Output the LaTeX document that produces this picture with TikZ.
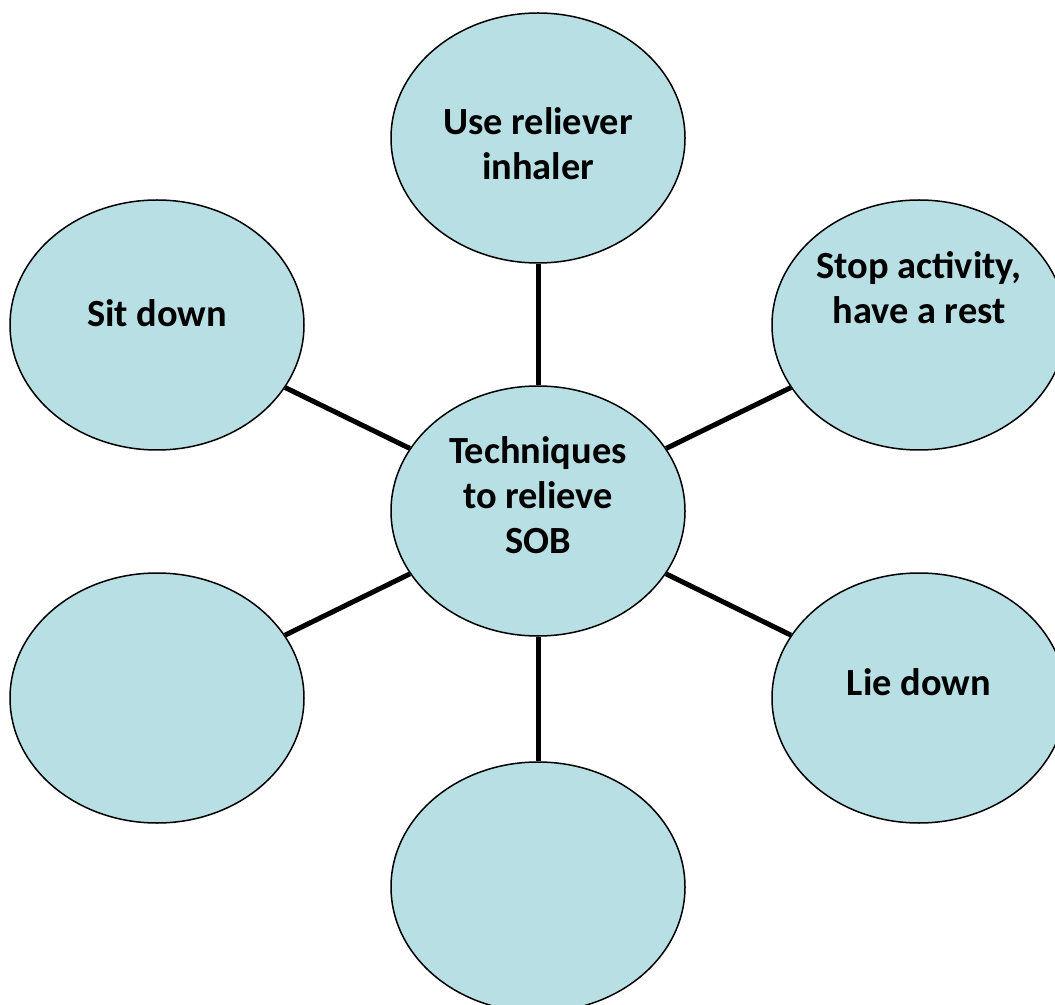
\documentclass[tikz,border=0pt]{standalone}
\usepackage{fontspec}
\setmainfont{Carlito}
\usetikzlibrary{shapes.geometric}
\definecolor{bubblefill}{HTML}{B8DFE3}
\tikzset{
  bubble/.style={ellipse, draw=black, line width=0.75pt, fill=bubblefill,
                 minimum width=147pt, minimum height=125pt, inner sep=0pt},
  txt/.style={font=\fontsize{19.2}{22.5}\selectfont\bfseries, text=black,
              align=center, inner sep=0pt},
  spoke/.style={draw=black, line width=2.5pt},
}

\begin{document}
\begin{tikzpicture}[x=0.5pt, y=-0.5pt]
% ---- page (px of the layout) ------------------------------------------------
\useasboundingbox (0,0) rectangle (1055,1005);
\clip (0,0) rectangle (1055,1005);
\def\xL{157} \def\xM{538} \def\xR{919}
\def\rA{138} \def\rB{325} \def\rC{511} \def\rD{698} \def\rE{887}

% ---- bubbles ------------------------------------------------------------------
\node[bubble] (hub)   at (\xM, \rC) {};
\node[bubble] (use)   at (\xM, \rA) {};
\node[bubble] (sit)   at (\xL, \rB) {};
\node[bubble] (stop)  at (\xR, \rB) {};
\node[bubble] (lie)   at (\xR, \rD) {};
\node[bubble] (blank) at (\xL, \rD) {};
\node[bubble] (low)   at (\xM, \rE) {};

% ---- texts --------------------------------------------------------------------
\node[txt] (hub-t)  at ([yshift=8pt]hub)     {Techniques\\to relieve\\SOB};
\node[txt] (use-t)  at ([yshift=-3pt]use)    {Use reliever\\inhaler};
\node[txt] (sit-t)  at ([yshift=6pt]sit)     {Sit down};
\node[txt] (stop-t) at ([yshift=18.75pt]stop) {Stop activity,\\have a rest};
\node[txt] (lie-t)  at ([yshift=8pt]lie)     {Lie down};

% ---- spokes -------------------------------------------------------------------
\draw[spoke] (hub) -- (use);
\draw[spoke] (hub) -- (sit);
\draw[spoke] (hub) -- (stop);
\draw[spoke] (hub) -- (lie);
\draw[spoke] (hub) -- (blank);
\draw[spoke] (hub) -- (low);
\end{tikzpicture}
\end{document}
